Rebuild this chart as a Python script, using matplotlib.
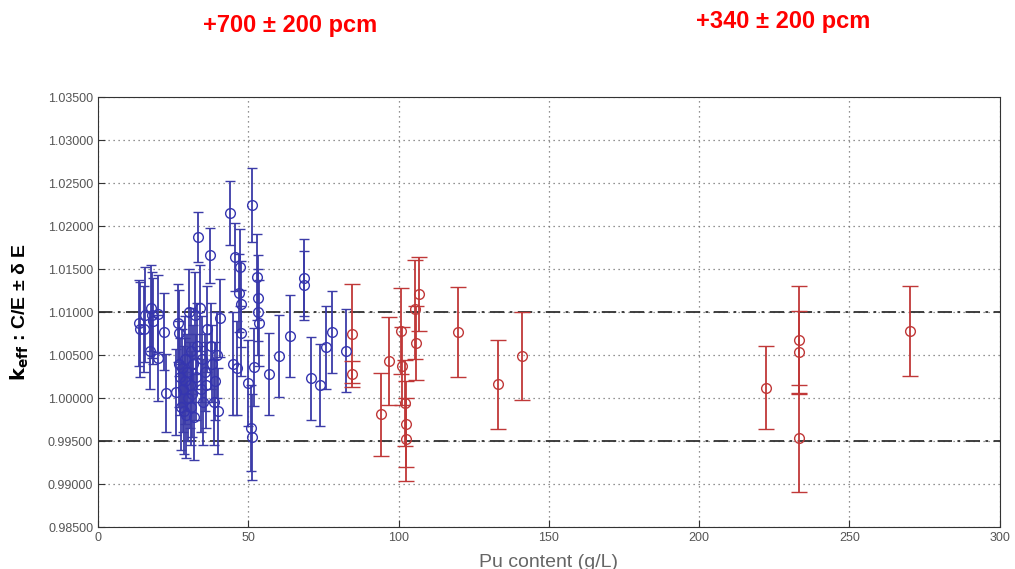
import numpy as np
import matplotlib
matplotlib.use('Agg')
import matplotlib.pyplot as plt

# blue series (low Pu content)
blueX = [13.6, 13.8, 15.3, 15.6, 17.3, 17.6, 18.0, 18.2, 20.0, 20.0,
         22.0, 22.6, 25.8, 26.5, 26.9, 27.0, 27.3, 27.5, 28.0, 28.2,
         28.5, 28.8, 29.0, 29.3, 29.6, 30.0, 30.3, 30.5, 30.8, 31.0,
         31.3, 31.6, 32.0, 32.3, 32.5, 33.0, 33.3, 33.9, 34.2, 34.6,
         35.0, 35.5, 36.0, 36.4, 37.2, 37.5, 38.0, 38.6, 39.0, 39.5,
         40.6, 40.0, 43.9, 44.8, 45.6, 46.2, 47.2, 47.0, 47.4, 47.6,
         49.8, 51.2, 51.0, 51.3, 52.0, 53.0, 53.2, 53.3, 53.5, 56.9,
         60.2, 63.9, 68.5, 68.5, 70.8, 73.8, 75.8, 77.8, 82.5]
blueY = [1.0087, 1.0080, 1.0080, 1.0097, 1.0055, 1.0105, 1.0097, 1.0090, 1.0098, 1.0047,
         1.0077, 1.0006, 1.0007, 1.0087, 1.0076, 1.0040, 1.0025, 0.9990, 1.0035, 1.0010,
         0.9985, 1.0045, 1.0020, 0.9980, 1.0030, 1.0000, 1.0100, 1.0015, 0.9990, 1.0055,
         1.0005, 1.0040, 0.9978, 1.0097, 1.0025, 1.0060, 1.0187, 1.0105, 1.0010, 1.0045,
         0.9995, 1.0030, 1.0015, 1.0080, 1.0166, 1.0060, 1.0040, 0.9995, 1.0020, 1.0050,
         1.0093, 0.9985, 1.0215, 1.0040, 1.0164, 1.0035, 1.0152, 1.0122, 1.0109, 1.0076,
         1.0017, 1.0224, 0.9965, 0.9955, 1.0036, 1.0141, 1.0116, 1.0100, 1.0087, 1.0028,
         1.0049, 1.0072, 1.0140, 1.0131, 1.0023, 1.0015, 1.0059, 1.0077, 1.0055]
blueErr = [0.0050, 0.0055, 0.0050, 0.0055, 0.0045, 0.0050, 0.0050, 0.0050, 0.0045, 0.0050,
           0.0045, 0.0045, 0.0050, 0.0045, 0.0050, 0.0050, 0.0045, 0.0050, 0.0045, 0.0050,
           0.0050, 0.0050, 0.0050, 0.0050, 0.0045, 0.0050, 0.0050, 0.0050, 0.0045, 0.0050,
           0.0050, 0.0045, 0.0050, 0.0050, 0.0050, 0.0050, 0.0029, 0.0050, 0.0050, 0.0050,
           0.0050, 0.0045, 0.0050, 0.0050, 0.0032, 0.0050, 0.0045, 0.0050, 0.0045, 0.0050,
           0.0045, 0.0050, 0.0037, 0.0060, 0.0040, 0.0055, 0.0045, 0.0045, 0.0050, 0.0050,
           0.0050, 0.0043, 0.0050, 0.0050, 0.0045, 0.0050, 0.0050, 0.0050, 0.0050, 0.0048,
           0.0048, 0.0048, 0.0045, 0.0040, 0.0048, 0.0048, 0.0048, 0.0048, 0.0048]

# red series (high Pu content)
redX = [84.5, 84.5, 94.1, 96.8, 100.8, 101.0, 102.0, 102.3, 102.3, 106.7,
        105.4, 105.8, 119.7, 133.0, 141.0, 222.1, 233.1, 233.1, 233.1, 270.0]
redY = [1.0075, 1.0028, 0.9981, 1.0043, 1.0078, 1.0037, 0.9994, 0.9970, 0.9952, 1.0121,
        1.0103, 1.0064, 1.0077, 1.0016, 1.0049, 1.0012, 1.0068, 1.0053, 0.9953, 1.0078]
redErr = [0.0058, 0.0015, 0.0048, 0.0051, 0.0050, 0.0045, 0.0050, 0.0050, 0.0048, 0.0043,
          0.0058, 0.0043, 0.0052, 0.0052, 0.0051, 0.0048, 0.0062, 0.0048, 0.0062, 0.0052]

limitLines = [1.010, 0.995]
yTicks = np.arange(0.985, 1.0351, 0.005)
xTicks = [0, 50, 100, 150, 200, 250, 300]

plt.rc('font', family=['Liberation Sans', 'DejaVu Sans'])
fig = plt.figure(figsize=(10.15, 5.69), dpi=100)
ax = fig.add_axes([0.0966, 0.0738, 0.8884, 0.7557])

ax.errorbar(blueX, blueY, yerr=blueErr, fmt='o', mfc='none', mec='#3535b0', ecolor='#3c3ca8',
            ms=7, mew=1.0, elinewidth=1.3, capsize=3.5, capthick=1.3, zorder=3)
ax.errorbar(redX, redY, yerr=redErr, fmt='o', mfc='none', mec='#c03838', ecolor='#c03838',
            ms=7, mew=1.0, elinewidth=1.3, capsize=6, capthick=1.3, zorder=3)

for v in limitLines:
    ax.axhline(v, color='#303030', linestyle=(0, (8, 3, 1.5, 3)), linewidth=1.3, zorder=2)

ax.set_xlim(0, 300)
ax.set_ylim(0.985, 1.035)
ax.set_xticks(xTicks)
ax.set_yticks(yTicks)
ax.set_yticklabels(['%.5f' % v for v in yTicks])
ax.grid(True, linestyle=(0, (1, 3)), color='#707070', linewidth=0.9)
ax.tick_params(direction='in', length=5, colors='#333333', labelcolor='#555555', labelsize=9)
for s in ax.spines.values():
    s.set_color('#333333')

ax.set_xlabel('Pu content (g/L)', fontsize=14, color='#666666', labelpad=7)
ax.set_ylabel(r'$\mathbf{k_{eff}}$ : C/E ± δ E', fontsize=14, fontweight='bold', labelpad=12)

fig.text(0.286, 0.955, '+700 ± 200 pcm', color='#ff0000', fontsize=17, fontweight='bold',
         ha='center', va='center')
fig.text(0.772, 0.962, '+340 ± 200 pcm', color='#ff0000', fontsize=17, fontweight='bold',
         ha='center', va='center')

fig.savefig('out.png', dpi=100)
